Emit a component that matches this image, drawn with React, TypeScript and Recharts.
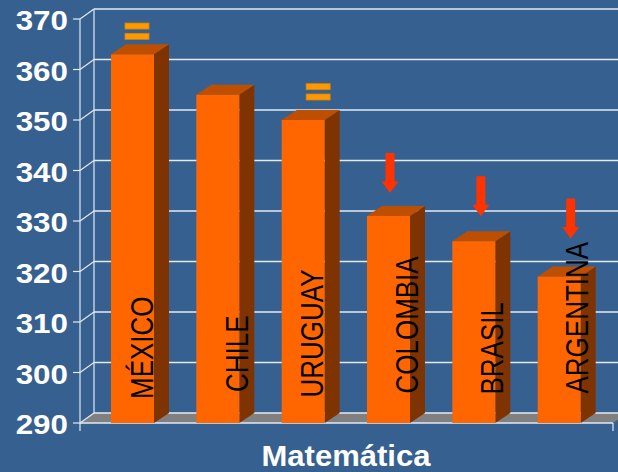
import { BarChart, Bar, XAxis, YAxis, CartesianGrid, LabelList } from "recharts"

const paises = ["MÉXICO", "CHILE", "URUGUAY", "COLOMBIA", "BRASIL", "ARGENTINA"]
const puntajes = [363, 355, 350, 331, 326, 319]
// "=" sin cambio, "baja" flecha hacia abajo
const marcas = ["igual", "", "igual", "baja", "baja", "baja"]
const yTicks = [290, 300, 310, 320, 330, 340, 350, 360, 370]

const data = paises.map((pais, i) => ({ pais, puntaje: puntajes[i], marca: marcas[i] }))

const BG = "#36608F"
const FONT = "'Liberation Sans', Arial, sans-serif"
const GRID = "#E4EAF2"

// small per-bar nudges, the labels/markers in the original are hand placed
const LABEL_SHIFT = [20, 29.8, 20, 29.6, 29.3, 29]
const LABEL_LIFT = [24, 31, 25.5, 29.5, 28.5, 29.5]
const MARK_SHIFT = [4.5, 0, 15, 1.5, 7, 11.5]
const MARK_LIFT = [15, 0, 20, 23, 25, 38]

function box(props: any) {
  const vb = props.viewBox && props.viewBox.width !== undefined ? props.viewBox : props
  return { x: vb.x, y: vb.y, width: vb.width, height: vb.height }
}

function GridLine(props: any) {
  const { x1, x2, y1, index } = props
  const top = props.y ?? 19
  const bottom = top + (props.height ?? 404)
  const ax = x1 - 10
  const bx = ax + 14
  const right = x2 + 11
  const floor = Math.abs(y1 - bottom) < 1
  return (
    <g key={`h-${index}`}>
      {floor && (
        <g>
          <polygon
            points={`${ax},${y1} ${bx},${y1 - 10} ${right + 14},${y1 - 10} ${right},${y1}`}
            fill="#808080"
          />
          <line x1={ax} y1={y1} x2={right} y2={y1} stroke={GRID} strokeWidth={1.5} />
          <line x1={right} y1={y1} x2={right} y2={y1 + 8} stroke={GRID} strokeWidth={1.2} />
          <line x1={ax} y1={top} x2={ax} y2={y1 + 8} stroke={GRID} strokeWidth={1.2} />
          <line x1={bx} y1={top - 10} x2={bx} y2={y1 - 10} stroke={GRID} strokeWidth={1.2} />
        </g>
      )}
      <line x1={ax - 7} y1={y1} x2={ax} y2={y1} stroke={GRID} strokeWidth={1.2} />
      <line x1={ax} y1={y1} x2={bx} y2={y1 - 10} stroke={GRID} strokeWidth={1.2} />
      <line x1={bx} y1={y1 - 10} x2={640} y2={y1 - 10} stroke={GRID} strokeWidth={1.5} />
    </g>
  )
}

function YTick(props: any) {
  const { x, y, payload } = props
  return (
    <text
      transform={`translate(${x},${y + 11}) scale(1.12,1)`}
      textAnchor="end"
      fill="#FFFFFF"
      fontSize={28}
      fontWeight="bold"
      fontFamily={FONT}
    >
      {payload.value}
    </text>
  )
}

function AxisTitle(props: any) {
  const vb = props.viewBox || { x: 90, y: 423, width: 512, height: 49 }
  return (
    <text
      transform={`translate(${vb.x + vb.width / 2},${vb.y + 43}) scale(1.07,1)`}
      textAnchor="middle"
      fill="#FFFFFF"
      fontSize={29}
      fontWeight="bold"
      fontFamily={FONT}
    >
      Matemática
    </text>
  )
}

function Bar3D(props: any) {
  const { x, y, width, height } = props
  const dx = 15
  const dy = 10
  const r = x + width
  const b = y + height
  return (
    <g>
      <polygon points={`${r},${y} ${r + dx},${y - dy} ${r + dx},${b - dy} ${r},${b}`} fill="#7F3300" />
      <polygon points={`${x},${y} ${x + dx},${y - dy} ${r + dx},${y - dy} ${r},${y}`} fill="#BF4F00" />
      <rect x={x} y={y} width={width} height={height} fill="#FF6600" />
    </g>
  )
}

function NombreLabel(props: any) {
  const { x, y, width, height } = box(props)
  const i = props.index
  const bx = x + width / 2 + LABEL_SHIFT[i]
  const by = y + height - LABEL_LIFT[i]
  return (
    <text
      transform={`translate(${bx},${by}) rotate(-90) scale(1,1.24)`}
      fill="#000000"
      fontSize={26}
      fontFamily={FONT}
    >
      {props.value}
    </text>
  )
}

function Marca(props: any) {
  const { x, y, width } = box(props)
  const i = props.index
  const cx = x + width / 2 + MARK_SHIFT[i]
  const t = y - MARK_LIFT[i]
  if (props.value === "igual") {
    return (
      <g fill="#FF9900" stroke="#E08000" strokeWidth={0.8}>
        <rect x={cx - 12} y={t - 6} width={24} height={6} />
        <rect x={cx - 12} y={t - 16.3} width={24} height={6} />
      </g>
    )
  }
  if (props.value === "baja") {
    const pts = [
      [cx - 4.5, t - 40],
      [cx + 4.5, t - 40],
      [cx + 4.5, t - 11.5],
      [cx + 8.5, t - 11.5],
      [cx, t],
      [cx - 8.5, t - 11.5],
      [cx - 4.5, t - 11.5],
    ]
    return <polygon points={pts.map((p) => p.join(",")).join(" ")} fill="#FF3300" />
  }
  return null
}

export default function App() {
  return (
    <div style={{ position: "absolute", left: 0, top: 0, width: 618, height: 472, background: BG }}>
      <BarChart
        width={618}
        height={472}
        data={data}
        margin={{ top: 19, right: 16, left: 0, bottom: 0 }}
        barSize={43}
      >
        <CartesianGrid vertical={false} horizontal={GridLine} syncWithTicks />
        <XAxis
          dataKey="pais"
          tick={false}
          axisLine={false}
          tickLine={false}
          height={49}
          label={<AxisTitle />}
        />
        <YAxis
          width={90}
          domain={[290, 370]}
          ticks={yTicks}
          interval={0}
          allowDataOverflow
          axisLine={false}
          tickLine={false}
          tickSize={0}
          tickMargin={22}
          tick={YTick}
        />
        <Bar dataKey="puntaje" shape={Bar3D} isAnimationActive={false}>
          <LabelList dataKey="pais" content={NombreLabel} />
          <LabelList dataKey="marca" content={Marca} />
        </Bar>
      </BarChart>
    </div>
  )
}
